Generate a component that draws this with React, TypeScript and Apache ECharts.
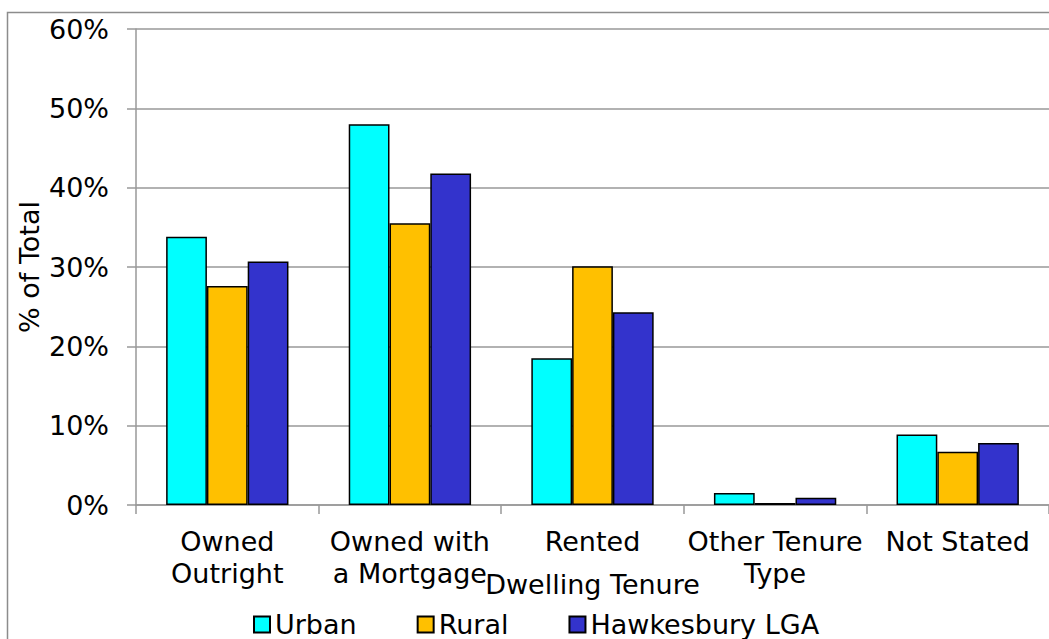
import React, { useEffect, useRef } from "react";
import * as echarts from "echarts";

const categories = ["Owned\nOutright", "Owned with\na Mortgage", "Rented", "Other Tenure\nType", "Not Stated"];
const urban = [33.8, 48.0, 18.5, 1.5, 8.9];
const rural = [27.6, 35.5, 30.1, 0.25, 6.7];
const hawkesbury = [30.7, 41.8, 24.3, 0.9, 7.8];
const seriesNames = ["Urban", "Rural", "Hawkesbury LGA"];
const colors = ["#00FFFF", "#FFC000", "#3333CC"];

const FONT = "DejaVu Sans";

export default function App() {
  const ref = useRef<HTMLDivElement>(null);
  useEffect(() => {
    if (!ref.current) return;
    const chart = echarts.init(ref.current, undefined, { renderer: "svg" });
    const data = [urban, rural, hawkesbury];
    chart.setOption({
      animation: false,
      textStyle: { fontFamily: FONT },
      graphic: [
        {
          type: "rect",
          shape: { x: 7.5, y: 12.5, width: 1200, height: 800 },
          style: { fill: "none", stroke: "#8c8c8c", lineWidth: 1.5 },
          z: -1,
        },
      ],
      grid: { left: 136, right: -2, top: 29, bottom: 134, containLabel: false },
      legend: {
        left: 253,
        top: 611,
        padding: 0,
        itemWidth: 16,
        itemHeight: 16,
        itemGap: 60,
        icon: "rect",
        textStyle: { fontFamily: FONT, fontSize: 27, color: "#000" },
        data: seriesNames,
      },
      xAxis: {
        type: "category",
        data: categories,
        name: "Dwelling Tenure",
        nameLocation: "middle",
        nameGap: 66,
        nameMoveOverlap: false,
        nameTextStyle: { fontFamily: FONT, fontSize: 27, color: "#000" },
        axisLine: { lineStyle: { color: "#999", width: 1.5 } },
        axisTick: { show: true, alignWithLabel: false, length: 9, lineStyle: { color: "#999", width: 1.5 } },
        axisLabel: { fontFamily: FONT, fontSize: 27, color: "#000", margin: 20, lineHeight: 32, interval: 0 },
      },
      yAxis: {
        type: "value",
        min: 0,
        max: 60,
        interval: 10,
        name: "% of Total",
        nameLocation: "middle",
        nameGap: 93,
        nameMoveOverlap: false,
        nameRotate: 90,
        nameTextStyle: { fontFamily: FONT, fontSize: 27, color: "#000" },
        axisLine: { show: true, lineStyle: { color: "#999", width: 1.5 } },
        axisTick: { show: true, length: 9, lineStyle: { color: "#999", width: 1.5 } },
        axisLabel: { fontFamily: FONT, fontSize: 27, color: "#000", margin: 27, formatter: "{value}%" },
        splitLine: { show: true, lineStyle: { color: "#999", width: 1.5 } },
      },
      series: seriesNames.map((name, i) => ({
        name,
        type: "bar",
        data: data[i],
        barGap: "0%",
        barCategoryGap: "33%",
        itemStyle: { color: colors[i], borderColor: "#000", borderWidth: 1.5 },
      })),
    });
    return () => chart.dispose();
  }, []);
  return (
    <div
      ref={ref}
      style={{ position: "fixed", left: 0, top: 0, width: 1049, height: 639, background: "#fff" }}
    />
  );
}
